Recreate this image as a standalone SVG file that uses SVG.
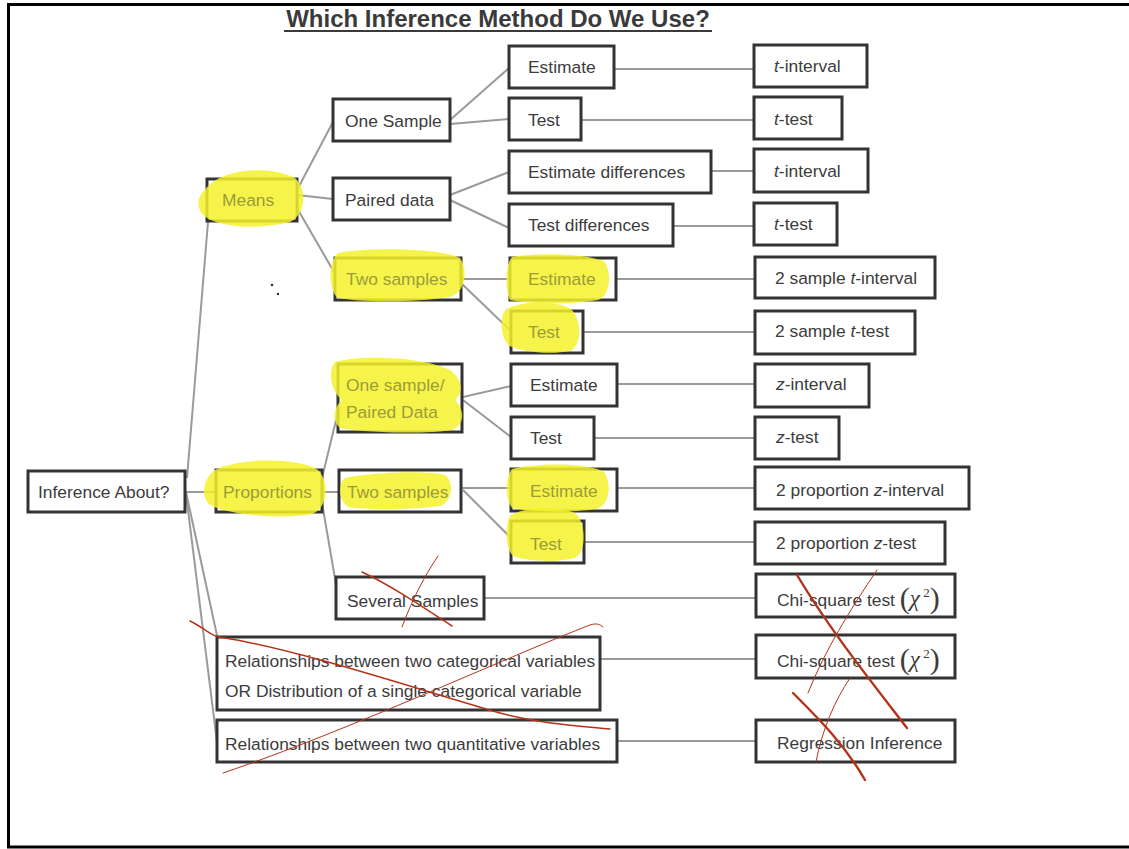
<svg xmlns="http://www.w3.org/2000/svg" width="1129" height="849" viewBox="0 0 1129 849">
<style>
.box{fill:#fff;stroke:#333;stroke-width:3}
.t{font-family:"Liberation Sans",Arial,sans-serif;font-size:17.4px;fill:#3c3c3c}
.h{fill:#9c9c38}
.hl{fill:#f4f22a;opacity:0.85}
.c{stroke:#9a9a9a;stroke-width:2;fill:none}
.red{stroke:#b23318;fill:none;stroke-linecap:round}
.frame{stroke:#000;stroke-width:3;fill:none}
.m{font-family:"Liberation Serif","Times New Roman",serif}
</style>
<rect x="0" y="0" width="1129" height="849" fill="#fff"/>
<g id="frame">
<path class="frame" d="M1129,4.5 H8.5 V847 H1129"/>
</g>
<g id="title">
<text x="498" y="27" text-anchor="middle" font-family="Liberation Sans,Arial,sans-serif" font-size="24" font-weight="bold" fill="#3a3a3a">Which Inference Method Do We Use?</text>
<line x1="284" y1="31" x2="712" y2="31" stroke="#3a3a3a" stroke-width="2"/>
</g>
<g id="connectors">
<path class="c" d="M186,492 H216"/>
<path class="c" d="M187,478 L208,222"/>
<path class="c" d="M186,492 L218,640"/>
<path class="c" d="M186,494 L217,742"/>
<path class="c" d="M297,190 L333,122"/>
<path class="c" d="M297,195 L333,199"/>
<path class="c" d="M297,208 L334,272"/>
<path class="c" d="M322,478 L339,408"/>
<path class="c" d="M322,492 H339"/>
<path class="c" d="M322,503 L337,590"/>
<path class="c" d="M450,120 L509,68"/>
<path class="c" d="M450,124 L509,119"/>
<path class="c" d="M450,195 L509,172"/>
<path class="c" d="M450,200 L509,228"/>
<path class="c" d="M461,279 H510"/>
<path class="c" d="M462,284 L511,331"/>
<path class="c" d="M463,397 L511,386"/>
<path class="c" d="M463,400 L511,437"/>
<path class="c" d="M461,488 H510"/>
<path class="c" d="M463,490 L511,538"/>
<path class="c" d="M614,69 H754"/>
<path class="c" d="M581,120 H754"/>
<path class="c" d="M711,171 H754"/>
<path class="c" d="M673,226 H754"/>
<path class="c" d="M616,279 H755"/>
<path class="c" d="M583,332 H755"/>
<path class="c" d="M617,384 H755"/>
<path class="c" d="M594,438 H755"/>
<path class="c" d="M617,488 H755"/>
<path class="c" d="M584,542 H755"/>
<path class="c" d="M485,598 H755"/>
<path class="c" d="M600,659 H755"/>
<path class="c" d="M618,741 H755"/>
</g>
<g id="n-inference"><rect class="box" x="28" y="471" width="157" height="41"/><text class="t" x="38" y="498">Inference About?</text></g>
<g id="n-means"><rect class="box" x="207" y="179" width="90" height="42"/><path class="hl" d="M205,190 C220,168 270,165 295,178 C308,190 305,215 290,222 C260,230 215,228 202,214 C196,205 198,196 205,190 Z"/><text class="t h" x="222" y="206">Means</text></g>
<g id="n-proportions"><rect class="box" x="216" y="470" width="106" height="42"/><path class="hl" d="M215,470 C240,457 300,458 318,470 C330,482 328,508 312,514 C280,520 230,515 210,505 C200,497 203,478 215,470 Z"/><text class="t h" x="223" y="498">Proportions</text></g>
<g id="n-rel-cat"><rect class="box" x="217" y="637" width="383" height="73"/><text class="t" x="225" y="667">Relationships between two categorical variables</text><text class="t" x="225" y="697">OR Distribution of a single categorical variable</text></g>
<g id="n-rel-quant"><rect class="box" x="217" y="720" width="400" height="42"/><text class="t" x="225" y="750">Relationships between two quantitative variables</text></g>
<g id="n-one-sample"><rect class="box" x="333" y="99" width="117" height="42"/><text class="t" x="345" y="127">One Sample</text></g>
<g id="n-paired"><rect class="box" x="333" y="178" width="117" height="42"/><text class="t" x="345" y="206">Paired data</text></g>
<g id="n-two-means"><rect class="box" x="335" y="258" width="126" height="42"/><path class="hl" d="M338,253 C370,247 440,248 460,258 C468,270 466,292 450,297 C410,303 360,302 338,298 C328,290 328,262 338,253 Z"/><text class="t h" x="346" y="285">Two samples</text></g>
<g id="n-one-paired"><rect class="box" x="338" y="364" width="124" height="68"/><path class="hl" d="M335,362 C360,355 420,356 450,370 C465,382 462,395 455,400 C465,410 465,425 452,430 C420,435 360,432 340,428 C330,418 336,405 342,400 C330,390 328,370 335,362 Z"/><text class="t h" x="346" y="391">One sample/</text><text class="t h" x="346" y="418">Paired Data</text></g>
<g id="n-two-prop"><rect class="box" x="339" y="470" width="122" height="42"/><path class="hl" d="M345,478 C370,472 430,470 445,475 C455,482 452,502 440,506 C410,510 365,510 348,507 C338,500 338,484 345,478 Z"/><text class="t h" x="347" y="498">Two samples</text></g>
<g id="n-several"><rect class="box" x="336" y="577" width="148" height="42"/><text class="t" x="347" y="607">Several Samples</text></g>
<g id="n-est1"><rect class="box" x="509" y="46" width="105" height="42"/><text class="t" x="528" y="73">Estimate</text></g>
<g id="n-test1"><rect class="box" x="509" y="98" width="72" height="42"/><text class="t" x="528" y="126">Test</text></g>
<g id="n-estdiff"><rect class="box" x="509" y="151" width="202" height="42"/><text class="t" x="528" y="178">Estimate differences</text></g>
<g id="n-testdiff"><rect class="box" x="509" y="204" width="164" height="42"/><text class="t" x="528" y="231">Test differences</text></g>
<g id="n-est2"><rect class="box" x="510" y="258" width="106" height="42"/><path class="hl" d="M512,257 C540,252 590,254 605,262 C612,275 610,295 598,300 C570,305 530,304 510,300 C505,290 505,265 512,257 Z"/><text class="t h" x="528" y="285">Estimate</text></g>
<g id="n-test2"><rect class="box" x="511" y="311" width="72" height="42"/><path class="hl" d="M505,310 C520,300 560,300 572,310 C582,322 582,345 570,351 C550,355 520,352 508,345 C500,335 500,318 505,310 Z"/><text class="t h" x="528" y="338">Test</text></g>
<g id="n-est3"><rect class="box" x="511" y="364" width="106" height="42"/><text class="t" x="530" y="391">Estimate</text></g>
<g id="n-test3"><rect class="box" x="511" y="417" width="83" height="42"/><text class="t" x="530" y="444">Test</text></g>
<g id="n-est4"><rect class="box" x="511" y="469" width="106" height="42"/><path class="hl" d="M512,469 C540,462 590,463 604,472 C612,484 610,505 596,509 C570,513 530,512 512,508 C505,498 505,478 512,469 Z"/><text class="t h" x="530" y="497">Estimate</text></g>
<g id="n-test4"><rect class="box" x="511" y="521" width="73" height="42"/><path class="hl" d="M510,516 C525,505 570,506 578,516 C586,528 586,552 575,558 C555,563 525,561 513,556 C505,548 505,525 510,516 Z"/><text class="t h" x="530" y="550">Test</text></g>
<g id="n-tint1"><rect class="box" x="754" y="45" width="113" height="42"/><text class="t" x="774" y="72"><tspan font-style="italic">t</tspan>-interval</text></g>
<g id="n-ttest1"><rect class="box" x="754" y="97" width="88" height="42"/><text class="t" x="774" y="125"><tspan font-style="italic">t</tspan>-test</text></g>
<g id="n-tint2"><rect class="box" x="754" y="149" width="114" height="43"/><text class="t" x="774" y="177"><tspan font-style="italic">t</tspan>-interval</text></g>
<g id="n-ttest2"><rect class="box" x="754" y="203" width="83" height="42"/><text class="t" x="774" y="230"><tspan font-style="italic">t</tspan>-test</text></g>
<g id="n-2tint"><rect class="box" x="755" y="257" width="180" height="41"/><text class="t" x="775" y="284">2 sample <tspan font-style="italic">t</tspan>-interval</text></g>
<g id="n-2ttest"><rect class="box" x="755" y="311" width="160" height="43"/><text class="t" x="775" y="337">2 sample <tspan font-style="italic">t</tspan>-test</text></g>
<g id="n-zint"><rect class="box" x="755" y="364" width="114" height="43"/><text class="t" x="776" y="390"><tspan font-style="italic">z</tspan>-interval</text></g>
<g id="n-ztest"><rect class="box" x="755" y="417" width="84" height="42"/><text class="t" x="776" y="443"><tspan font-style="italic">z</tspan>-test</text></g>
<g id="n-2zint"><rect class="box" x="755" y="467" width="214" height="42"/><text class="t" x="776" y="496">2 proportion <tspan font-style="italic">z</tspan>-interval</text></g>
<g id="n-2ztest"><rect class="box" x="755" y="522" width="190" height="42"/><text class="t" x="776" y="549">2 proportion <tspan font-style="italic">z</tspan>-test</text></g>
<g id="n-chi1"><rect class="box" x="756" y="574" width="199" height="43"/><text class="t" x="777" y="606">Chi-square test <tspan class="m" font-size="30" dy="2">(</tspan><tspan class="m" font-style="italic" font-size="23" dy="-2">χ</tspan><tspan class="m" font-size="13" dy="-9"> 2</tspan><tspan class="m" font-size="30" dy="11">)</tspan></text></g>
<g id="n-chi2"><rect class="box" x="756" y="635" width="199" height="43"/><text class="t" x="777" y="667">Chi-square test <tspan class="m" font-size="30" dy="2">(</tspan><tspan class="m" font-style="italic" font-size="23" dy="-2">χ</tspan><tspan class="m" font-size="13" dy="-9"> 2</tspan><tspan class="m" font-size="30" dy="11">)</tspan></text></g>
<g id="n-regression"><rect class="box" x="756" y="720" width="199" height="42"/><text class="t" x="777" y="749">Regression Inference</text></g>
<g id="specks" fill="#333"><circle cx="272" cy="285" r="1.3"/><circle cx="278" cy="294" r="1.2"/></g>
<g id="red-marks">
<path class="red" stroke-width="1.5" d="M362,572 C390,585 420,605 452,626"/>
<path class="red" stroke-width="1" d="M402,627 C412,600 425,575 438,556"/>
<path class="red" stroke-width="1.4" d="M190,621 C205,628 212,638 225,638 C300,650 420,690 500,713 C540,724 580,726 610,729"/>
<path class="red" stroke-width="1" d="M223,773 C350,730 500,660 590,625 C596,623 600,624 603,627"/>
<path class="red" stroke-width="2.4" d="M797,575 C830,630 870,680 907,728"/>
<path class="red" stroke-width="1" d="M877,570 C850,610 825,650 808,693"/>
<path class="red" stroke-width="2.4" d="M793,693 C820,720 845,745 865,780"/>
<path class="red" stroke-width="1" d="M850,678 C835,700 822,730 816,762"/>
</g>
</svg>
